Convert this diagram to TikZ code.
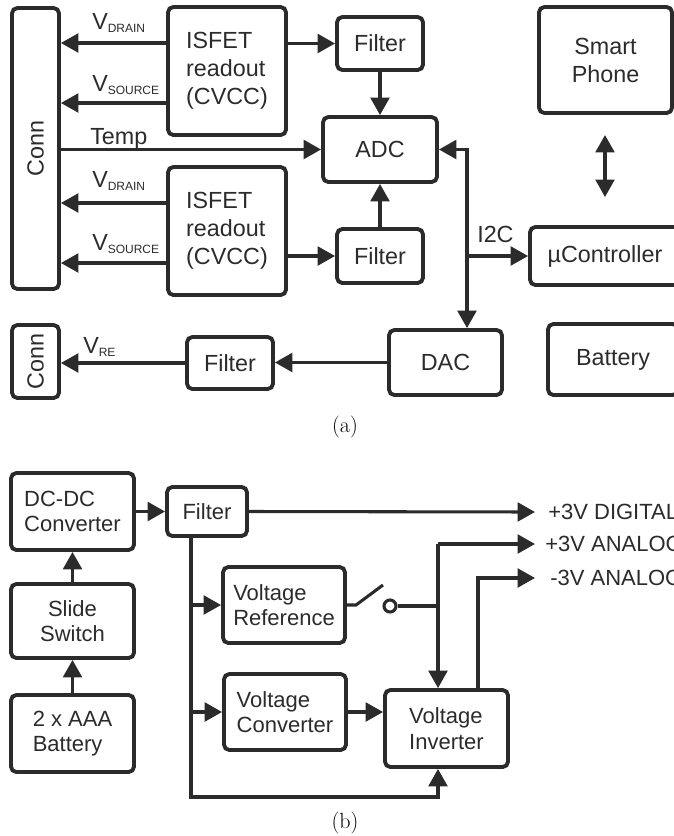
\documentclass[tikz,border=0pt]{standalone}
\usepackage{fontspec}
\newfontfamily\arialf{Liberation Sans}
\usetikzlibrary{arrows.meta}
\definecolor{ink}{HTML}{2B2B2B}
\newcommand{\Vs}[1]{V\raisebox{-2.5pt}{\fontsize{9}{9}\selectfont #1}}
\begin{document}
\begin{tikzpicture}[x=0.75pt,y=-0.75pt,
  every node/.style={font=\arialf, text=ink},
  box/.style={draw=ink, line width=2.9pt, rounded corners=4pt, inner sep=0pt, font=\arialf\fontsize{17.5}{21}\selectfont},
  boxb/.style={box, font=\arialf\fontsize{16.5}{19}\selectfont},
  wh/.style 2 args={minimum width=#1*0.75pt, minimum height=#2*0.75pt},
  ln/.style={draw=ink, line width=2.3pt},
  arr/.style={ln, -{Triangle[length=13pt,width=14pt]}},
  darr/.style={ln, {Triangle[length=13pt,width=14pt]}-{Triangle[length=13pt,width=14pt]}},
  lbl/.style={inner sep=0pt, font=\arialf\fontsize{17.5}{21}\selectfont},
  lblb/.style={inner sep=0pt, font=\arialf\fontsize{16.5}{19}\selectfont},
  captxt/.style={text=black, font=\rmfamily\fontsize{16.5}{19}\selectfont},
]
\useasboundingbox (0,0) rectangle (674,836);

% ---------------- (a) ----------------
\node[box, wh={47}{281}] (conn1) at (35.5,148.5) {};
\node[lbl, rotate=90] (conn1t) at (conn1) {Conn};
\node[box, wh={118}{128}, align=left] (isf1) at (227,71) {ISFET\\readout\\(CVCC)};
\node[box, wh={118}{128}, align=left] (isf2) at (227,231) {ISFET\\readout\\(CVCC)};
\node[box, wh={86}{53}] (filt1) at (380,43.5) {Filter};
\node[box, wh={86}{54}] (filt2) at (380,256) {Filter};
\node[box, wh={114}{65}] (adc) at (380,149.5) {ADC};
\node[box, wh={47}{73}] (conn2) at (35.5,361.5) {};
\node[lbl, rotate=90] (conn2t) at (conn2) {Conn};
\node[box, wh={86}{52}] (filt3) at (230,363) {Filter};
\node[box, wh={113}{65}] (dac) at (445.5,362.5) {DAC};
\node[box, wh={133}{106}, align=center] (phone) at (605.5,60) {Smart\\Phone};
\node[box, wh={150}{58}] (uc) at (605,256) {µController};
\node[box, wh={130}{71}] (batt) at (613,359.5) {Battery};

\coordinate (y1) at (0,43);
\coordinate (y2) at (0,103);
\coordinate (y3) at (0,203);
\coordinate (y4) at (0,263);
\draw[arr] (isf1.west |- y1) -- (conn1.east |- y1);
\draw[arr] (isf1.west |- y2) -- (conn1.east |- y2);
\draw[arr] (isf2.west |- y3) -- (conn1.east |- y3);
\draw[arr] (isf2.west |- y4) -- (conn1.east |- y4);
\draw[arr] (isf1.east |- filt1.west) -- (filt1.west);
\draw[arr] (isf2.east |- filt2.west) -- (filt2.west);
\draw[arr] (filt1.south) -- (adc.north);
\draw[arr] (filt2.north) -- (adc.south);
\draw[arr] (conn1.east |- adc.west) -- (adc.west);

\node[lbl, anchor=base west] (ld1) at (92,29) {\Vs{DRAIN}};
\node[lbl, anchor=base west] (ls1) at (92,91) {\Vs{SOURCE}};
\node[lbl, anchor=base west] (ld2) at (92,187) {\Vs{DRAIN}};
\node[lbl, anchor=base west] (ls2) at (92,250) {\Vs{SOURCE}};
\node[lbl, anchor=base west] (ltemp) at (90,144) {Temp};

\coordinate (bus) at (467,256);
\draw[arr] (bus) |- (adc.east);
\draw[arr] (bus) -- (bus |- dac.north);
\draw[arr] (bus) -- (uc.west |- bus);
\node[lbl, anchor=base west] (li2c) at (477,242) {I2C};

\draw[arr] (dac.west) -- (filt3.east |- dac.west);
\draw[arr] (filt3.west) -- (conn2.east |- filt3.west);
\node[lbl, anchor=base west] (lre) at (83,353) {\Vs{RE}};

\coordinate (ph1) at (605,135);
\coordinate (ph2) at (605,197);
\draw[darr] (ph1) -- (ph2);

\node[captxt] (capa) at (345,427) {(a)};

% ---------------- (b) ----------------
\node[boxb, wh={123}{77}, align=left] (dcdc) at (72.5,511.5) {DC-DC\\Converter};
\node[boxb, wh={80}{49}] (filtb) at (207,511.5) {Filter};
\node[boxb, wh={123}{74}, align=center] (slide) at (72.5,621) {Slide\\Switch};
\node[boxb, wh={123}{77}, align=left] (aaa) at (72.5,733.5) {2 x AAA\\Battery};
\node[boxb, wh={122}{76}, align=left] (vref) at (284,605) {Voltage\\Reference};
\node[boxb, wh={122}{76}, align=left] (vconv) at (285,712) {Voltage\\Converter};
\node[boxb, wh={123}{77}, align=left] (vinv) at (446.5,728.5) {Voltage\\Inverter};

\draw[arr] (aaa.north) -- (slide.south);
\draw[arr] (slide.north) -- (dcdc.south);
\draw[arr] (dcdc.east |- filtb.west) -- (filtb.west);

\coordinate (dig) at (535,512);
\coordinate (anp) at (535,544);
\coordinate (anm) at (535,578);
\draw[arr] (filtb.east) -- (dig);
\node[lblb, anchor=west] (ldig) at (548,512) {+3V DIGITAL};
\node[lblb, anchor=west] (lanp) at (545,544) {+3V ANALOG};
\node[lblb, anchor=west] (lanm) at (550,578) {-3V ANALOG};

\coordinate (bl) at (191,797);
\coordinate (br) at (438,797);
\draw[arr] (filtb.south -| bl) -- (bl) -- (br) -- (vinv.south -| br);
\draw[arr] (bl |- vref.west) -- (vref.west);
\draw[arr] (bl |- vconv.west) -- (vconv.west);
\draw[arr] (vconv.east) -- (vinv.west |- vconv.east);

% switch
\coordinate (sw1) at (356,605);
\coordinate (sw2) at (383,585);
\node[draw=ink, line width=2.3pt, circle, inner sep=0pt, minimum size=12*0.75pt] (swc) at (390,606) {};
\draw[ln] (vref.east) -- (sw1) -- (sw2);
\coordinate (jt) at (438,544);
\draw[ln] (swc.east) -- (jt |- swc.east);
\draw[arr] (jt) -- (anp);
\draw[arr] (jt) -- (vinv.north -| jt);
\coordinate (jm) at (478,578);
\draw[arr] (vinv.north -| jm) -- (jm) -- (anm);

\node[captxt] (capb) at (345,823) {(b)};
\end{tikzpicture}
\end{document}
